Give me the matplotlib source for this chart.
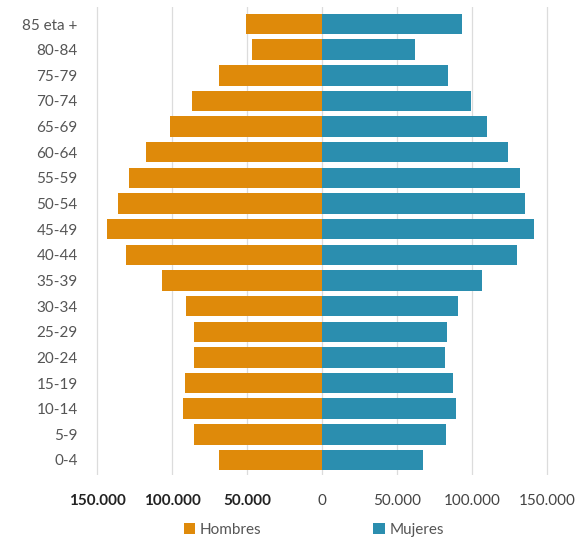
import numpy as np
import matplotlib
matplotlib.use("Agg")
import matplotlib.pyplot as plt
from matplotlib.ticker import FuncFormatter

plt.rcParams['font.family'] = ['Lato', 'DejaVu Sans']

# age groups, bottom to top
age_groups = ['0-4', '5-9', '10-14', '15-19', '20-24', '25-29', '30-34', '35-39',
              '40-44', '45-49', '50-54', '55-59', '60-64', '65-69', '70-74',
              '75-79', '80-84', '85 eta +']
hombres = [69000, 85500, 92500, 91500, 85500, 85500, 90500, 106500,
           131000, 143500, 136000, 128500, 117500, 101500, 87000,
           69000, 46500, 51000]
mujeres = [67000, 82500, 89500, 87500, 82000, 83500, 90500, 106500,
           130000, 141000, 135000, 132000, 124000, 110000, 99000,
           84000, 62000, 93000]

c_h = '#DF8A0A'
c_m = '#2B8EAF'

fig = plt.figure(figsize=(5.8, 5.4), dpi=100)
ax = fig.add_axes([82 / 580, 65 / 540, 488 / 580, 468 / 540])

y = np.arange(len(age_groups))
ax.barh(y, [-v for v in hombres], height=0.8, color=c_h, label='Hombres', zorder=3)
ax.barh(y, mujeres, height=0.8, color=c_m, label='Mujeres', zorder=3)

ax.set_xlim(-160000, 165333)
ax.set_ylim(-0.585, 17.663)
ax.set_xticks([-150000, -100000, -50000, 0, 50000, 100000, 150000])
ax.xaxis.set_major_formatter(FuncFormatter(lambda v, p: f'{abs(int(v)):,}'.replace(',', '.')))
ax.set_yticks(y)
ax.set_yticklabels(age_groups)
ax.grid(axis='x', color='#dcdcdc', linewidth=0.9, zorder=0)
for s in ax.spines.values():
    s.set_visible(False)
ax.tick_params(axis='y', length=0, pad=3, labelsize=11, labelcolor='#555555')
ax.tick_params(axis='x', length=0, pad=14, labelsize=11, labelcolor='#444444')
for lbl in ax.get_xticklabels()[:3]:
    lbl.set_color('#222222')
    lbl.set_fontweight('bold')

ax.legend(loc='center', bbox_to_anchor=(0.475, -0.118), bbox_transform=ax.transAxes,
          ncol=2, frameon=False, fontsize=11, handlelength=0.75, handleheight=0.75,
          handletextpad=0.3, columnspacing=7.3, labelcolor='#555555',
          borderaxespad=0, borderpad=0)

fig.savefig('out.png', dpi=100)
